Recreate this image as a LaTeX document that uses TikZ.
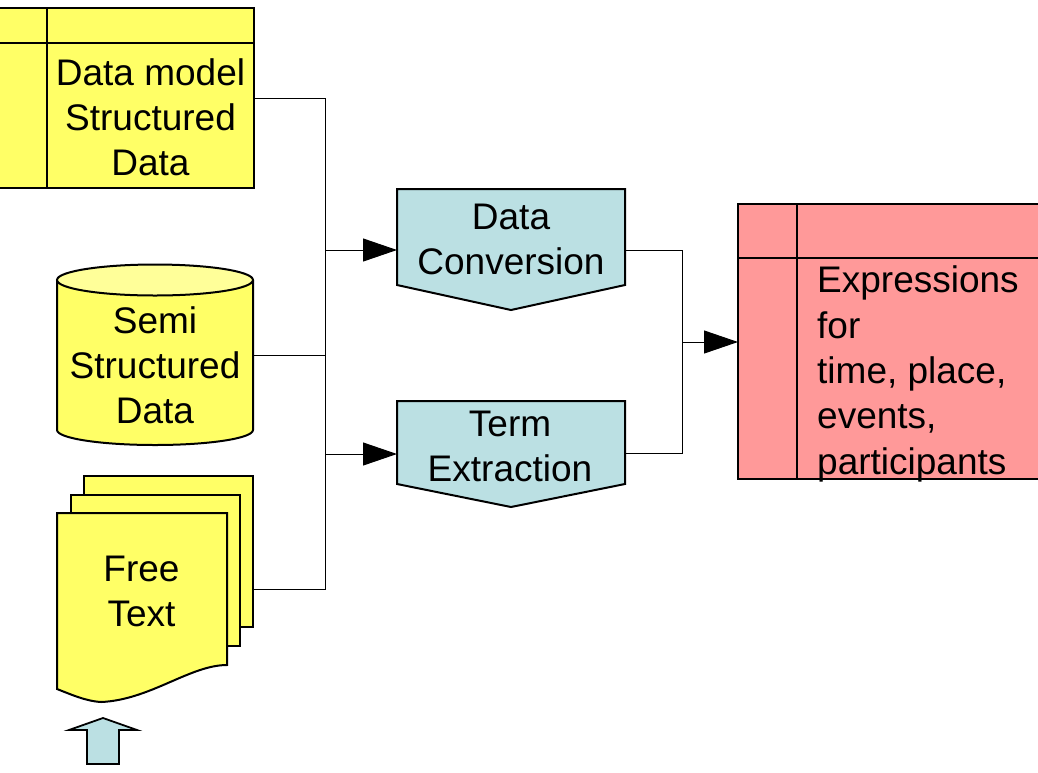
\documentclass[tikz,border=0pt]{standalone}
\usepackage{fontspec}
\setmainfont{Liberation Sans}
\usetikzlibrary{arrows.meta}
\definecolor{yel}{HTML}{FFFF66}
\definecolor{yeltop}{HTML}{FFFF99}
\definecolor{pinkc}{HTML}{FF9999}
\definecolor{bluec}{HTML}{BBE0E3}
\tikzset{
  shapeline/.style={draw=black,line width=2pt,line join=miter},
  conn/.style={draw=black,line width=1pt},
  arr/.style={conn,-{Triangle[length=34pt,width=23pt]}},
  lbl/.style={inner sep=0pt,font=\fontsize{37}{45}\selectfont},
}
\begin{document}
\begin{tikzpicture}[x=1pt,y=-1pt]
\useasboundingbox (0,0) rectangle (1038,772);
\clip (0,0) rectangle (1038,772);
% ---- structured data table
\draw[shapeline,fill=yel] (-10,8) rectangle (254,188);
\draw[shapeline] (47,8) -- (47,188);
\draw[shapeline] (-10,43) -- (254,43);
\node[lbl,align=center] (sd) at (150.5,117.5) {Data model\\Structured\\Data};
\coordinate (sdout) at (254,98);
% ---- cylinder
\fill[yel] (57,280) -- (57,430) arc[start angle=180,end angle=0,x radius=98,y radius=15] -- (253,280) -- cycle;
\draw[shapeline] (57,280) -- (57,430) arc[start angle=180,end angle=0,x radius=98,y radius=15] -- (253,280);
\draw[shapeline,fill=yeltop] (155,280) ellipse[x radius=98,y radius=15.5];
\node[lbl,align=center] (ss) at (155,365) {Semi\\Structured\\Data};
\coordinate (ssout) at (253,355);
% ---- free text documents
\draw[shapeline,fill=yel] (84,476) rectangle (253,627);
\draw[shapeline,fill=yel] (71,495) rectangle (240,646);
\draw[shapeline,fill=yel] (57,513) -- (227,513) -- (227,665)
  .. controls (190,665) and (150,700) .. (101,702)
  .. controls (85,701) and (70,694) .. (57,689) -- cycle;
\node[lbl,align=center] (ft) at (141.5,591.5) {Free\\Text};
\coordinate (ftout) at (253,589);
% ---- block arrow
\draw[shapeline,line width=1.8pt,fill=bluec] (103,718) -- (137,730) -- (119,730) -- (119,764)
  -- (87,764) -- (87,730) -- (69,730) -- cycle;
% ---- process shapes
\draw[shapeline,fill=bluec] (397,189) -- (625,189) -- (625,285) -- (511,310) -- (397,285) -- cycle;
\node[lbl,align=center] (dc) at (511,239) {Data\\Conversion};
\draw[shapeline,fill=bluec] (397,401) -- (625,401) -- (625,484) -- (511,507) -- (397,484) -- cycle;
\node[lbl,align=center] (te) at (510,446) {Term\\Extraction};
\coordinate (dcin) at (397,250);
\coordinate (tein) at (397,454);
\coordinate (dcout) at (625,250);
\coordinate (teout) at (625,453);
% ---- output table
\draw[shapeline,fill=pinkc] (738,204) rectangle (1050,479);
\draw[shapeline] (797,204) -- (797,479);
\draw[shapeline] (738,258) -- (1050,258);
\node[lbl,align=left,anchor=west,font=\fontsize{37}{45.3}\selectfont] (ex) at (817,374) {Expressions\\for\\time, place,\\events,\\participants};
\coordinate (exin) at (738,342);
% ---- connectors
\coordinate (bus) at (325,589);
\coordinate (bus2) at (682,453);
\draw[conn] (sdout) -| (bus) -- (ftout);
\draw[conn] (ssout) -- (ssout -| bus);
\draw[arr] (bus |- dcin) -- (dcin);
\draw[arr] (bus |- tein) -- (tein);
\draw[conn] (dcout) -| (bus2) -- (teout);
\draw[arr] (bus2 |- exin) -- (exin);
\end{tikzpicture}
\end{document}
